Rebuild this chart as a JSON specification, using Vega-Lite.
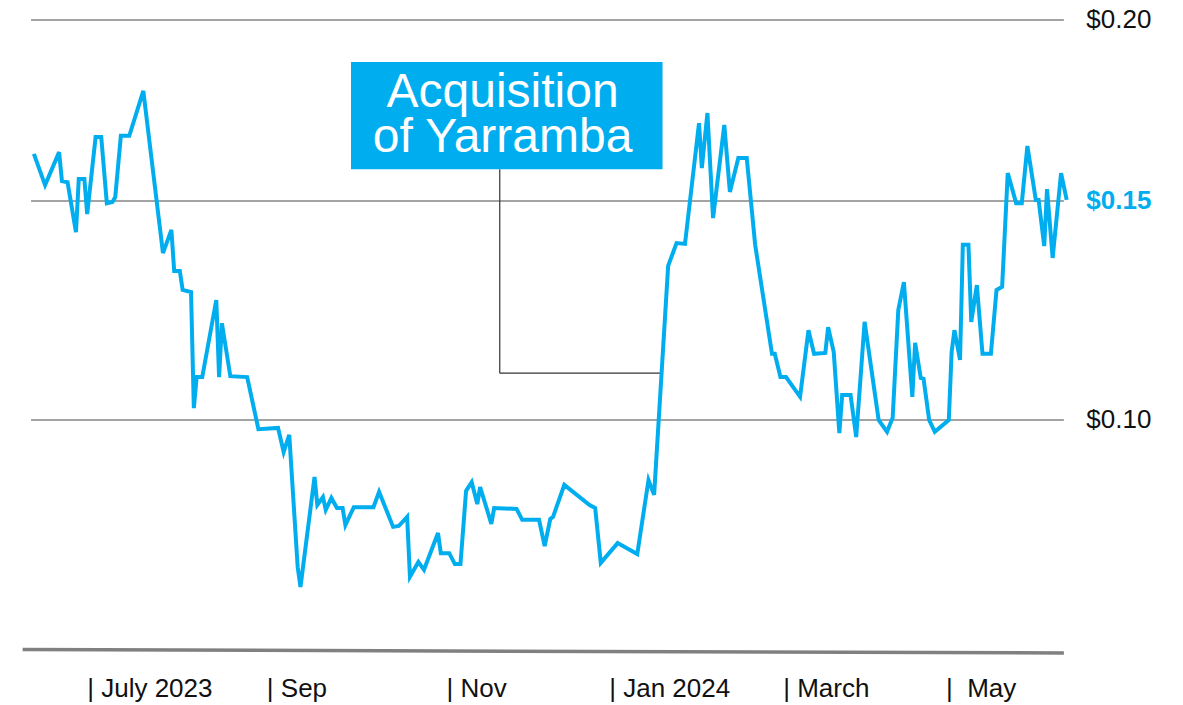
{
  "$schema": "https://vega.github.io/schema/vega-lite/v6.json",
  "width": 1183,
  "height": 705,
  "autosize": "none",
  "padding": 0,
  "background": "white",
  "config": {"view": {"stroke": null}, "axis": {"disable": true}, "font": "Liberation Sans"},
  "layer": [
    {
      "data": {"values": [{"level": 0.2}, {"level": 0.15}, {"level": 0.1}]},
      "mark": {"type": "rule", "color": "#858585", "strokeWidth": 1.5},
      "encoding": {
        "x": {"datum": {"year": 2023, "month": "jun", "date": 10, "utc": true}, "type": "temporal",
          "scale": {"domain": [{"year": 2023, "month": "jun", "date": 1, "utc": true}, {"year": 2024, "month": "jul", "date": 1, "utc": true}], "range": [5.8, 1117.2]}},
        "x2": {"datum": {"year": 2024, "month": "jun", "date": 12, "utc": true}},
        "y": {"field": "level", "type": "quantitative",
          "scale": {"domain": [0, 0.1, 0.15, 0.2, 0.21], "range": [858, 420, 201, 20, -16.2], "nice": false, "zero": false}}
      }
    },
    {
      "data": {"values": [{"edge": "bottom"}]},
      "mark": {"type": "rule", "color": "#808080", "strokeWidth": 3.5},
      "encoding": {
        "x": {"datum": {"year": 2023, "month": "jun", "date": 7, "utc": true}, "type": "temporal"},
        "x2": {"datum": {"year": 2024, "month": "jun", "date": 12, "utc": true}},
        "y": {"datum": 0.0476, "type": "quantitative"},
        "y2": {"datum": 0.0468}
      }
    },
    {
      "data": {"values": [
        {"date": "2023-06-11", "price": 0.1630}, {"date": "2023-06-15", "price": 0.1544}, {"date": "2023-06-20", "price": 0.1635},
        {"date": "2023-06-21", "price": 0.1555}, {"date": "2023-06-23", "price": 0.1552}, {"date": "2023-06-26", "price": 0.1429},
        {"date": "2023-06-27", "price": 0.1561}, {"date": "2023-06-29", "price": 0.1561}, {"date": "2023-06-30", "price": 0.1470},
        {"date": "2023-07-03", "price": 0.1677}, {"date": "2023-07-05", "price": 0.1677}, {"date": "2023-07-07", "price": 0.1495},
        {"date": "2023-07-09", "price": 0.1498}, {"date": "2023-07-10", "price": 0.1511}, {"date": "2023-07-12", "price": 0.1680},
        {"date": "2023-07-15", "price": 0.1680}, {"date": "2023-07-20", "price": 0.1804}, {"date": "2023-07-27", "price": 0.1381},
        {"date": "2023-07-30", "price": 0.1434}, {"date": "2023-07-31", "price": 0.1340}, {"date": "2023-08-02", "price": 0.1340},
        {"date": "2023-08-03", "price": 0.1297}, {"date": "2023-08-06", "price": 0.1292}, {"date": "2023-08-07", "price": 0.1027},
        {"date": "2023-08-08", "price": 0.1098}, {"date": "2023-08-10", "price": 0.1098}, {"date": "2023-08-15", "price": 0.1274},
        {"date": "2023-08-16", "price": 0.1098}, {"date": "2023-08-17", "price": 0.1221}, {"date": "2023-08-20", "price": 0.1100},
        {"date": "2023-08-26", "price": 0.1098}, {"date": "2023-08-30", "price": 0.0979}, {"date": "2023-09-06", "price": 0.0982},
        {"date": "2023-09-08", "price": 0.0927}, {"date": "2023-09-10", "price": 0.0966}, {"date": "2023-09-13", "price": 0.0664},
        {"date": "2023-09-14", "price": 0.0619}, {"date": "2023-09-19", "price": 0.0870}, {"date": "2023-09-20", "price": 0.0806},
        {"date": "2023-09-22", "price": 0.0824}, {"date": "2023-09-23", "price": 0.0795}, {"date": "2023-09-25", "price": 0.0822},
        {"date": "2023-09-27", "price": 0.0799}, {"date": "2023-09-29", "price": 0.0799}, {"date": "2023-09-30", "price": 0.0760},
        {"date": "2023-10-03", "price": 0.0801}, {"date": "2023-10-10", "price": 0.0801}, {"date": "2023-10-12", "price": 0.0836},
        {"date": "2023-10-17", "price": 0.0756}, {"date": "2023-10-19", "price": 0.0758}, {"date": "2023-10-22", "price": 0.0779},
        {"date": "2023-10-23", "price": 0.0642}, {"date": "2023-10-26", "price": 0.0676}, {"date": "2023-10-28", "price": 0.0658},
        {"date": "2023-11-02", "price": 0.0742}, {"date": "2023-11-03", "price": 0.0696}, {"date": "2023-11-06", "price": 0.0696},
        {"date": "2023-11-08", "price": 0.0671}, {"date": "2023-11-10", "price": 0.0671}, {"date": "2023-11-12", "price": 0.0838},
        {"date": "2023-11-14", "price": 0.0858}, {"date": "2023-11-16", "price": 0.0808}, {"date": "2023-11-17", "price": 0.0847},
        {"date": "2023-11-21", "price": 0.0763}, {"date": "2023-11-22", "price": 0.0799}, {"date": "2023-11-30", "price": 0.0797},
        {"date": "2023-12-02", "price": 0.0772}, {"date": "2023-12-08", "price": 0.0772}, {"date": "2023-12-10", "price": 0.0712},
        {"date": "2023-12-12", "price": 0.0774}, {"date": "2023-12-13", "price": 0.0779}, {"date": "2023-12-17", "price": 0.0852},
        {"date": "2023-12-26", "price": 0.0806}, {"date": "2023-12-28", "price": 0.0799}, {"date": "2023-12-30", "price": 0.0674},
        {"date": "2024-01-05", "price": 0.0719}, {"date": "2024-01-12", "price": 0.0694}, {"date": "2024-01-16", "price": 0.0863},
        {"date": "2024-01-18", "price": 0.0829}, {"date": "2024-01-23", "price": 0.1352}, {"date": "2024-01-26", "price": 0.1404},
        {"date": "2024-01-29", "price": 0.1402}, {"date": "2024-02-03", "price": 0.1715}, {"date": "2024-02-04", "price": 0.1591},
        {"date": "2024-02-06", "price": 0.1743}, {"date": "2024-02-08", "price": 0.1461}, {"date": "2024-02-12", "price": 0.1710},
        {"date": "2024-02-14", "price": 0.1525}, {"date": "2024-02-17", "price": 0.1619}, {"date": "2024-02-20", "price": 0.1619},
        {"date": "2024-02-23", "price": 0.1400}, {"date": "2024-02-29", "price": 0.1151}, {"date": "2024-03-01", "price": 0.1151},
        {"date": "2024-03-03", "price": 0.1098}, {"date": "2024-03-05", "price": 0.1098}, {"date": "2024-03-10", "price": 0.1053},
        {"date": "2024-03-13", "price": 0.1205}, {"date": "2024-03-15", "price": 0.1151}, {"date": "2024-03-19", "price": 0.1153},
        {"date": "2024-03-20", "price": 0.1212}, {"date": "2024-03-22", "price": 0.1155}, {"date": "2024-03-24", "price": 0.0970},
        {"date": "2024-03-25", "price": 0.1057}, {"date": "2024-03-28", "price": 0.1057}, {"date": "2024-03-30", "price": 0.0961},
        {"date": "2024-04-02", "price": 0.1224}, {"date": "2024-04-07", "price": 0.1000}, {"date": "2024-04-10", "price": 0.0973},
        {"date": "2024-04-12", "price": 0.1005}, {"date": "2024-04-14", "price": 0.1251}, {"date": "2024-04-16", "price": 0.1315},
        {"date": "2024-04-19", "price": 0.1053}, {"date": "2024-04-20", "price": 0.1176}, {"date": "2024-04-22", "price": 0.1096},
        {"date": "2024-04-23", "price": 0.1094}, {"date": "2024-04-25", "price": 0.1000}, {"date": "2024-04-27", "price": 0.0973},
        {"date": "2024-05-02", "price": 0.1000}, {"date": "2024-05-03", "price": 0.1155}, {"date": "2024-05-04", "price": 0.1205},
        {"date": "2024-05-06", "price": 0.1137}, {"date": "2024-05-07", "price": 0.1400}, {"date": "2024-05-09", "price": 0.1400},
        {"date": "2024-05-10", "price": 0.1224}, {"date": "2024-05-12", "price": 0.1308}, {"date": "2024-05-14", "price": 0.1151},
        {"date": "2024-05-17", "price": 0.1151}, {"date": "2024-05-19", "price": 0.1297}, {"date": "2024-05-21", "price": 0.1304},
        {"date": "2024-05-23", "price": 0.1577}, {"date": "2024-05-26", "price": 0.1495}, {"date": "2024-05-28", "price": 0.1495},
        {"date": "2024-05-30", "price": 0.1652}, {"date": "2024-06-02", "price": 0.1503}, {"date": "2024-06-03", "price": 0.1503},
        {"date": "2024-06-05", "price": 0.1397}, {"date": "2024-06-06", "price": 0.1533}, {"date": "2024-06-08", "price": 0.1370},
        {"date": "2024-06-11", "price": 0.1577}, {"date": "2024-06-13", "price": 0.1503}
      ]},
      "mark": {"type": "line", "color": "#00AEEF", "strokeWidth": 4, "strokeJoin": "miter", "strokeMiterLimit": 4},
      "encoding": {
        "x": {"field": "date", "type": "temporal"},
        "y": {"field": "price", "type": "quantitative"}
      }
    },
    {
      "data": {"values": [{"note": "Acquisition\nof Yarramba"}]},
      "layer": [
        {
          "mark": {"type": "rule", "color": "#333333", "strokeWidth": 1.2},
          "encoding": {
            "x": {"datum": {"year": 2023, "month": "nov", "date": 24, "utc": true}, "type": "temporal"},
            "y": {"datum": 0.1588, "type": "quantitative"},
            "y2": {"datum": 0.1107}
          }
        },
        {
          "mark": {"type": "rule", "color": "#333333", "strokeWidth": 1.2},
          "encoding": {
            "x": {"datum": {"year": 2023, "month": "nov", "date": 24, "utc": true}, "type": "temporal"},
            "x2": {"datum": {"year": 2024, "month": "jan", "date": 20, "utc": true}},
            "y": {"datum": 0.1107, "type": "quantitative"}
          }
        },
        {
          "mark": {"type": "rect", "color": "#00AEEF"},
          "encoding": {
            "x": {"datum": {"year": 2023, "month": "oct", "date": 2, "utc": true}, "type": "temporal"},
            "x2": {"datum": {"year": 2024, "month": "jan", "date": 21, "utc": true}},
            "y": {"datum": 0.1884, "type": "quantitative"},
            "y2": {"datum": 0.1588}
          }
        },
        {
          "mark": {"type": "text", "color": "white", "fontSize": 48, "lineHeight": 45, "lineBreak": "\n", "align": "center", "baseline": "middle", "font": "Liberation Sans"},
          "encoding": {
            "x": {"datum": {"year": 2023, "month": "nov", "date": 25, "utc": true}, "type": "temporal"},
            "y": {"datum": 0.1797, "type": "quantitative"},
            "text": {"field": "note"}
          }
        }
      ]
    },
    {
      "data": {"values": [{"level": 0.2, "label": "$0.20"}, {"level": 0.1, "label": "$0.10"}]},
      "mark": {"type": "text", "color": "#111111", "fontSize": 26, "align": "left", "baseline": "middle"},
      "encoding": {
        "x": {"datum": {"year": 2024, "month": "jun", "date": 20, "utc": true}, "type": "temporal"},
        "y": {"field": "level", "type": "quantitative"},
        "text": {"field": "label"}
      }
    },
    {
      "data": {"values": [{"level": 0.15, "label": "$0.15"}]},
      "mark": {"type": "text", "color": "#00AEEF", "fontSize": 26, "fontWeight": "bold", "align": "left", "baseline": "middle"},
      "encoding": {
        "x": {"datum": {"year": 2024, "month": "jun", "date": 20, "utc": true}, "type": "temporal"},
        "y": {"field": "level", "type": "quantitative"},
        "text": {"field": "label"}
      }
    },
    {
      "data": {"values": [
        {"date": "2023-06-30", "label": "| July 2023"},
        {"date": "2023-09-02", "label": "| Sep"},
        {"date": "2023-11-05", "label": "| Nov"},
        {"date": "2024-01-02", "label": "| Jan 2024"},
        {"date": "2024-03-04", "label": "| March"},
        {"date": "2024-05-01", "label": "| \u00a0May"}
      ]},
      "mark": {"type": "text", "color": "#111111", "fontSize": 26, "align": "left", "baseline": "middle"},
      "encoding": {
        "x": {"field": "date", "type": "temporal"},
        "y": {"datum": 0.0386, "type": "quantitative"},
        "text": {"field": "label"}
      }
    }
  ]
}
